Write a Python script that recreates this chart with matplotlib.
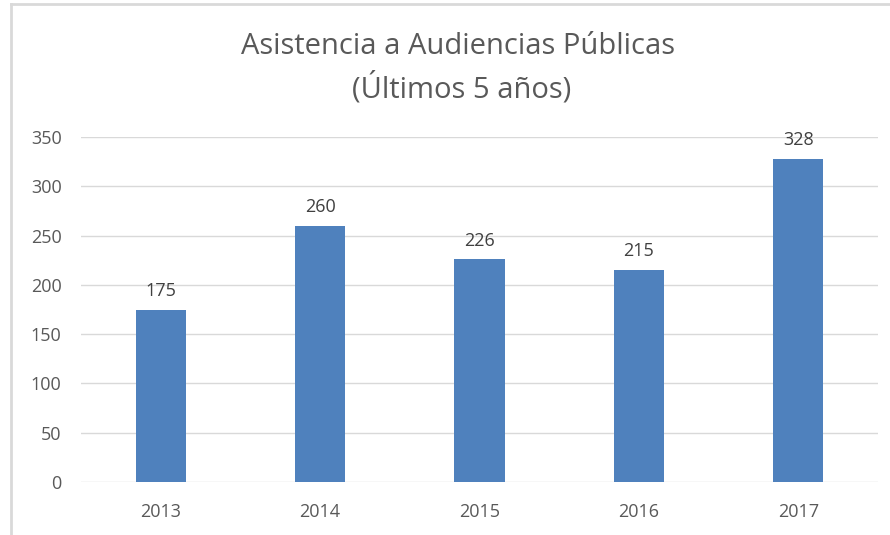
import matplotlib
matplotlib.use("Agg")
import matplotlib.pyplot as plt
from matplotlib.lines import Line2D

years = ["2013", "2014", "2015", "2016", "2017"]
values = [175, 260, 226, 215, 328]
yticks = [0, 50, 100, 150, 200, 250, 300, 350]

plt.rcParams['font.family'] = ['Open Sans', 'DejaVu Sans']

fig = plt.figure(figsize=(8.9, 5.35), dpi=100)
ax = fig.add_axes([81/890, 1-482/535, (878-81)/890, (482-137)/535])

x = list(range(len(years)))
bars = ax.bar(x, values, width=0.315, color="#4F81BD", zorder=3)
ax.set_xlim(-0.5, len(years)-0.5)
ax.set_ylim(0, 350)
ax.set_yticks(yticks)
ax.set_xticks(x)
ax.set_xticklabels(years)
ax.yaxis.grid(True, color="#D9D9D9", linewidth=1, zorder=0)
for s in ax.spines.values():
    s.set_visible(False)
ax.tick_params(axis='both', length=0, labelsize=13, labelcolor="#595959")
ax.tick_params(axis='y', pad=14)
ax.tick_params(axis='x', pad=15)

for b, v in zip(bars, values):
    ax.annotate(str(v), (b.get_x()+b.get_width()/2, v), xytext=(0, 7),
                textcoords="offset points", ha="center", va="bottom",
                fontsize=13, color="#404040")

fig.text(458/890, 1-46/535, "Asistencia a Audiencias Públicas", ha="center", va="center",
         fontsize=21, color="#595959")
fig.text(462/890, 1-88/535, "(Últimos 5 años)", ha="center", va="center",
         fontsize=21, color="#595959")

# chart border (partial, as visible)
fig.add_artist(Line2D([11/890, 11/890], [0, 1-4/535], transform=fig.transFigure, color="#D9D9D9", linewidth=2))
fig.add_artist(Line2D([11/890, 1], [1-4/535, 1-4/535], transform=fig.transFigure, color="#D9D9D9", linewidth=2))

fig.savefig("out.png", dpi=100)
